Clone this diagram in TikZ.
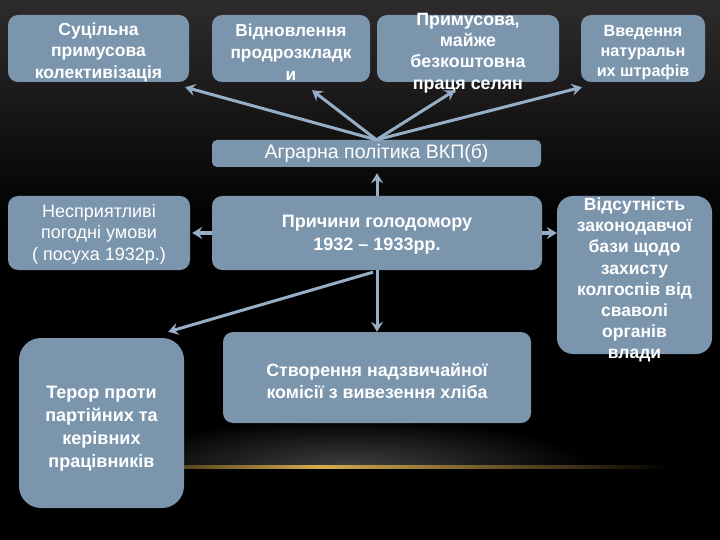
\documentclass[tikz,border=0pt]{standalone}
\usepackage{fontspec}
\setmainfont{Liberation Sans}
\usetikzlibrary{arrows.meta,calc}
\definecolor{boxfill}{HTML}{7B95AD}
\definecolor{arrc}{HTML}{96AFC6}
\definecolor{gold}{HTML}{D8AC50}
\definecolor{bgtop}{HTML}{2E2B2C}
\begin{document}
\begin{tikzpicture}[x=1pt,y=-1pt,
  box/.style={draw=none, fill=boxfill, rounded corners=10pt, inner sep=0pt},
  txtb/.style={text=white, align=center, inner sep=0pt, font=\fontsize{17.5}{21.5}\selectfont\bfseries},
  txtr/.style={text=white, align=center, inner sep=0pt, font=\fontsize{18}{21.5}\selectfont},
  arr/.style={draw=arrc, line width=3pt, -{Stealth[length=10pt,width=12pt,inset=3.5pt]}}]
\useasboundingbox (0,0) rectangle (720,540);
\fill[black] (0,0) rectangle (720,540);
\shade[top color=bgtop, bottom color=black] (0,0) rectangle (720,230);
% glow
\begin{scope}
  \clip (150,400) rectangle (700,467);
  \shade[inner color=gray!50!black, outer color=black] (350,467) ellipse [x radius=240, y radius=48];
\end{scope}
\shade[left color=gold!40!black, right color=gold] (183,465.5) rectangle (320,468.5);
\shade[left color=gold, right color=black] (320,465.5) rectangle (670,468.5);

% boxes
\node[box, minimum width=181pt, minimum height=67pt] (b1) at (98.5,48.5) {};
\node[box, minimum width=158pt, minimum height=67pt] (b2) at (291,48.5) {};
\node[box, minimum width=182pt, minimum height=67pt] (b3) at (468,48.5) {};
\node[box, minimum width=124pt, minimum height=67pt] (b4) at (643,48.5) {};
\node[box, rounded corners=5pt, minimum width=329pt, minimum height=27pt] (agr) at (376.5,153.5) {};
\node[box, minimum width=182pt, minimum height=74pt] (b6) at (99,233) {};
\node[box, minimum width=330pt, minimum height=74pt] (cause) at (377,233) {};
\node[box, rounded corners=16pt, minimum width=155pt, minimum height=158pt] (b8) at (634.5,275) {};
\node[box, rounded corners=22pt, minimum width=165pt, minimum height=170pt] (b9) at (101.5,423) {};
\node[box, minimum width=308pt, minimum height=91pt] (b10) at (377,377.5) {};

% texts
\node[txtb] (t1) at (98.5,52) {Суцільна\\примусова\\колективізація};
\node[txtb, font=\fontsize{17.3}{22}\selectfont\bfseries] (t2) at (291,52) {Відновлення\\продрозкладк\\и};
\node[txtb, font=\fontsize{17.8}{21.3}\selectfont\bfseries] (t3) at (468,53) {Примусова,\\майже\\безкоштовна\\праця селян};
\node[txtb, font=\fontsize{16.2}{20}\selectfont\bfseries] (t4) at (643,53) {Введення\\натуральн\\их штрафів};
\node[txtr, font=\fontsize{19.5}{21}\selectfont] (tagr) at (376.5,153.5) {Аграрна політика ВКП(б)};
\node[txtr] (t6) at (99,234) {Несприятливі\\погодні умови\\( посуха 1932р.)};
\node[txtb, font=\fontsize{18}{23}\selectfont\bfseries] (tc) at (377,234.5) {Причини голодомору\\1932 – 1933рр.};
\node[txtb, font=\fontsize{17.5}{21.1}\selectfont\bfseries] (t8) at (634.5,280) {Відсутність\\законодавчої\\бази щодо\\захисту\\колгоспів від\\сваволі\\органів\\влади};
\node[txtb, font=\fontsize{18}{23}\selectfont\bfseries] (t9) at (101.5,428.5) {Терор проти\\партійних та\\керівних\\працівників};
\node[txtb, font=\fontsize{17.8}{22}\selectfont\bfseries] (t10) at (377,380.5) {Створення надзвичайної\\комісії з вивезення хліба};

% arrows
\draw[arr] (agr.north) -- ($(b1.south east)+(-4,5)$);
\draw[arr] (agr.north) -- ($(b2.south)+(21,8)$);
\draw[arr] (agr.north) -- ($(b3.south)+(-13,8)$);
\draw[arr] (agr.north) -- ($(b4.south west)+(1,5)$);
\draw[arr] (cause.north) -- ($(agr.south)+(0.5,6)$);
\draw[arr] (cause.west) -- ($(b6.east)+(2,0)$);
\draw[arr] (cause.east) -- (cause.east -| b8.west);
\draw[arr] (cause.south) -- (b10.north);
\draw[arr] ($(cause.south)+(-4,2)$) -- ($(b9.north east)+(-16,-6)$);
\end{tikzpicture}
\end{document}
